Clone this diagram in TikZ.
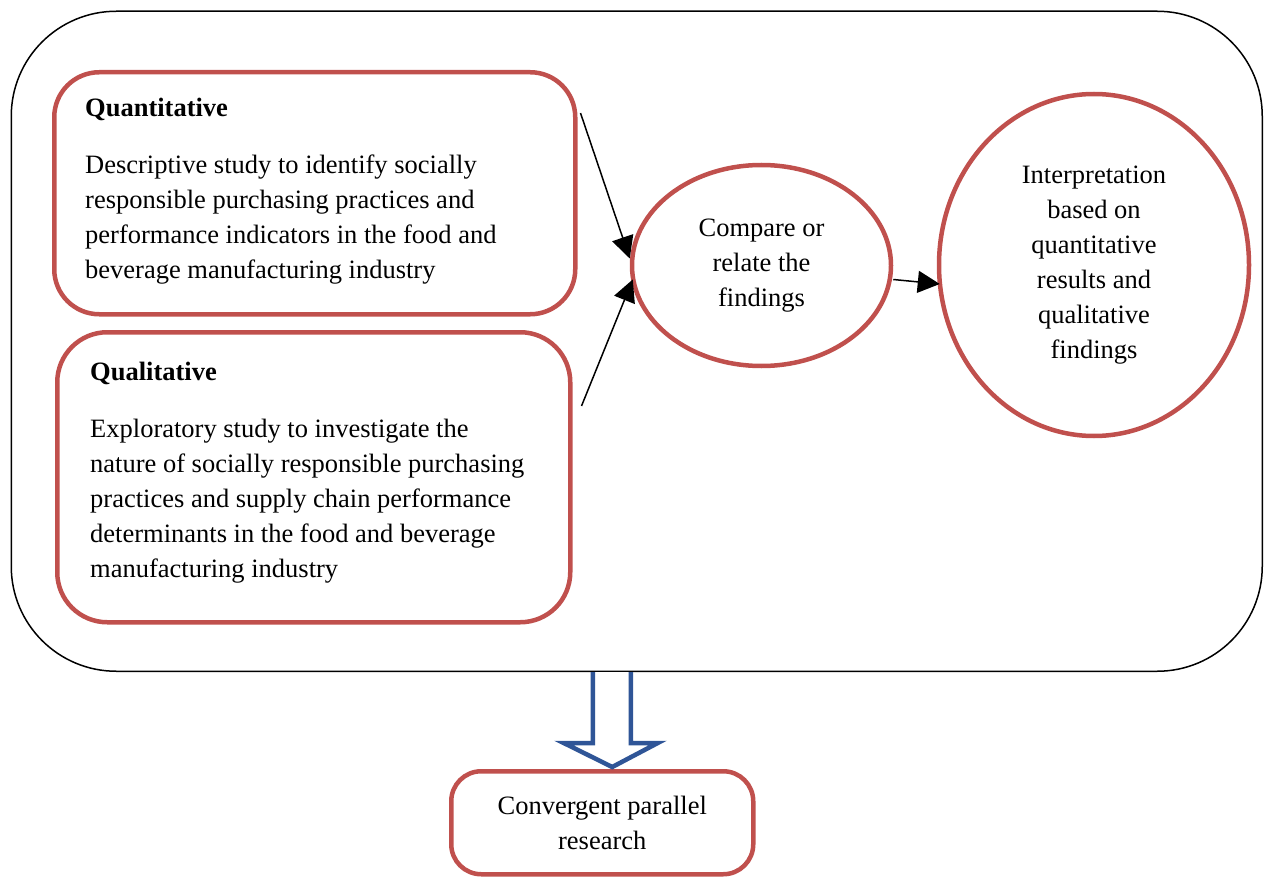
\documentclass[tikz,border=0pt]{standalone}
\usepackage{fontspec}
\setmainfont{Liberation Serif}
\usetikzlibrary{arrows.meta,calc,shapes.geometric}
\definecolor{boxred}{HTML}{C0504D}
\definecolor{arrowblue}{HTML}{2F5597}
\begin{document}
\begin{tikzpicture}[x=1pt,y=-1pt,
  every node/.style={font=\fontsize{26.5}{35}\selectfont},
  frame/.style={draw=black,line width=1.5pt,rounded corners=105pt},
  redbox/.style={draw=boxred,line width=4.5pt,inner sep=0pt},
  redoval/.style={draw=boxred,line width=4.5pt,ellipse,inner sep=0pt,align=center},
  line/.style={anchor=base west,inner sep=0pt},
  flow/.style={draw=black,line width=1.5pt,-{Triangle[length=22pt,width=22pt]}},
  blockarrow/.style={draw=arrowblue,line width=4.5pt,fill=white,line join=miter}]
\useasboundingbox (0,0) rectangle (1266,877);

% outer frame
\node[frame,minimum width=1251pt,minimum height=660pt,anchor=north west] (outer) at (10.5,10.5) {};

% quantitative strand
\node[redbox,rounded corners=45pt,minimum width=521pt,minimum height=242pt,anchor=north west] (quant) at (52,70) {};
\node[line,font=\fontsize{26.5}{35}\selectfont\bfseries] (quanttitle) at (85,117) {Quantitative};
\foreach \t [count=\i] in {Descriptive study to identify socially,
  responsible purchasing practices and,
  performance indicators in the food and,
  beverage manufacturing industry}
  \node[line] (quant\i) at (85,139+35*\i) {\t};

% qualitative strand
\node[redbox,rounded corners=50pt,minimum width=513pt,minimum height=290pt,anchor=north west] (qual) at (55,330) {};
\node[line,font=\fontsize{26.5}{35}\selectfont\bfseries] (qualtitle) at (90,380) {Qualitative};
\foreach \t [count=\i] in {Exploratory study to investigate the,
  nature of socially responsible purchasing,
  practices and supply chain performance,
  determinants in the food and beverage,
  manufacturing industry}
  \node[line] (qual\i) at (90,402+35*\i) {\t};

% merging and interpretation
\node[redoval,minimum width=259pt,minimum height=201pt] (cmp) at (761.5,265.5)
  {Compare or\\relate the\\findings};
\node[redoval,minimum width=310pt,minimum height=342pt] (interp) at (1094,265)
  {Interpretation\\based on\\quantitative\\results and\\qualitative\\findings};

\draw[flow] ([xshift=3pt,yshift=-43pt]quant.north east) -- ([yshift=7pt]cmp.west);
\draw[flow] ([xshift=9pt,yshift=-76pt]qual.north east) -- ([xshift=3pt,yshift=-14pt]cmp.west);
\draw[flow] ([yshift=-14pt]cmp.east) -- ([xshift=3pt,yshift=-19pt]interp.west);

% design label
\node[redbox,rounded corners=30pt,minimum width=302pt,minimum height=103pt,anchor=north west,align=center] (design) at (449,769)
  {Convergent parallel\\research};

% hollow block arrow from the frame down to the design label
\coordinate (shaftL) at ([xshift=-44pt]outer.south);
\coordinate (shaftR) at ([xshift=-6pt]outer.south);
\coordinate (tip) at ([xshift=10pt,yshift=2pt]design.north);
\draw[blockarrow] (shaftL) -- ++(0,71) -- ++(-29,0) -- (tip) -- ($(shaftR)+(27,71)$) -- ++(-27,0) -- (shaftR);
\end{tikzpicture}
\end{document}
